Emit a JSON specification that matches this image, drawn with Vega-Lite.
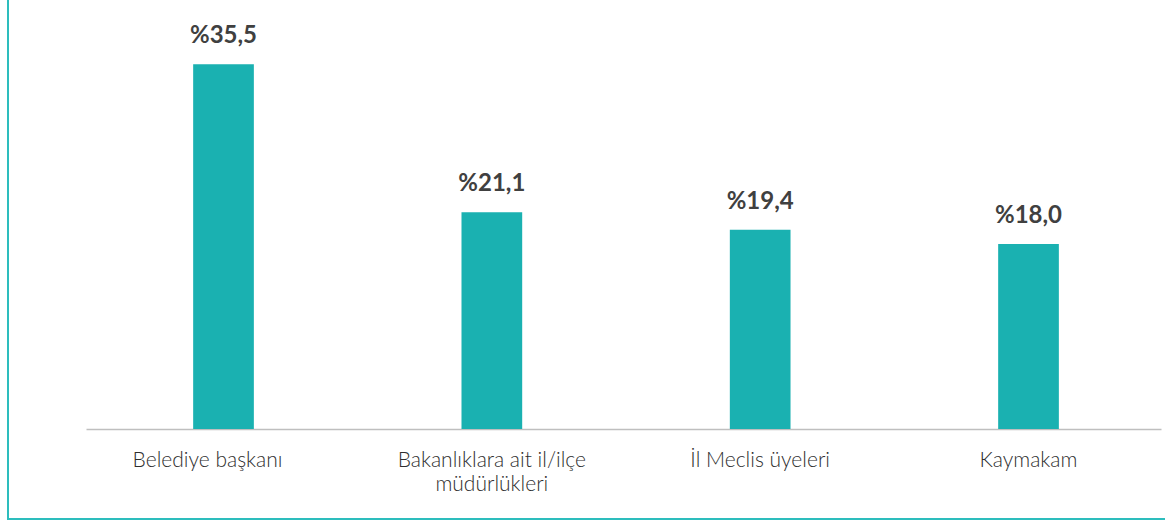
{
  "$schema": "https://vega.github.io/schema/vega-lite/v6.json",
  "autosize": "none",
  "padding": {"left": 8, "top": -10, "right": 0, "bottom": 3},
  "width": 1170,
  "height": 529,
  "background": "white",
  "config": {
    "view": {"stroke": "#2DBDBD", "strokeWidth": 2},
    "font": "Lato"
  },
  "data": {
    "values": [
      {"kategori": "Belediye başkanı", "oran": 35.5, "etiket": "%35,5"},
      {"kategori": "Bakanlıklara ait il/ilçe müdürlükleri", "oran": 21.1, "etiket": "%21,1"},
      {"kategori": "İl Meclis üyeleri", "oran": 19.4, "etiket": "%19,4"},
      {"kategori": "Kaymakam", "oran": 18.0, "etiket": "%18,0"}
    ]
  },
  "encoding": {
    "x": {
      "field": "kategori",
      "type": "nominal",
      "sort": null,
      "scale": {"range": [78, 1153], "paddingInner": 0.7738, "paddingOuter": 0.39, "align": 0.512},
      "axis": {
        "title": null,
        "offset": -90,
        "labelAngle": 0,
        "labelFont": "Lato",
        "labelFontSize": 21,
        "labelFontWeight": 300,
        "labelColor": "#2E2E2E",
        "labelPadding": 20,
        "labelLineHeight": 24,
        "labelLimit": 0,
        "labelOffset": {"expr": "datum.value == 'Belediye başkanı' ? -16 : 0"},
        "labelExpr": "datum.value == 'Bakanlıklara ait il/ilçe müdürlükleri' ? ['Bakanlıklara ait il/ilçe', 'müdürlükleri'] : datum.value",
        "ticks": false,
        "domainColor": "#BFBFBF",
        "domainWidth": 1.5,
        "grid": false
      }
    },
    "y": {
      "field": "oran",
      "type": "quantitative",
      "scale": {"domain": [0, 40], "range": [439, 28], "nice": false},
      "axis": null
    }
  },
  "layer": [
    {"mark": {"type": "bar", "color": "#1AB1B1"}},
    {
      "mark": {"type": "text", "font": "Lato", "fontWeight": "bold", "fontSize": 24, "color": "#404040", "baseline": "alphabetic", "dy": -21},
      "encoding": {"text": {"field": "etiket"}}
    }
  ]
}
